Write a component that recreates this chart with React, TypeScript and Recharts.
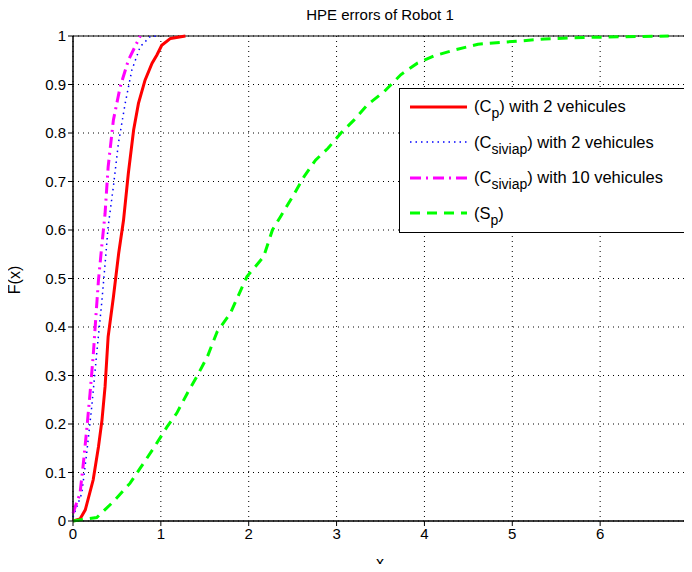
import { CartesianGrid, Line, LineChart, ReferenceArea, ReferenceLine, XAxis, YAxis } from "recharts";

const xTicks = [0, 1, 2, 3, 4, 5, 6, 7];
const yTicks = [0, 0.1, 0.2, 0.3, 0.4, 0.5, 0.6, 0.7, 0.8, 0.9, 1];

// (C_p) with 2 vehicules
const cp2X = [0, 0.08, 0.14, 0.23, 0.29, 0.33, 0.365, 0.4, 0.46, 0.52, 0.575, 0.63, 0.69, 0.745, 0.82, 0.9, 0.955, 1.01, 1.11, 1.28];
const cp2Y = [0, 0.004, 0.023, 0.085, 0.153, 0.208, 0.277, 0.38, 0.462, 0.552, 0.62, 0.717, 0.806, 0.861, 0.909, 0.944, 0.961, 0.981, 0.995, 1.0];

// (C_siviap) with 2 vehicules
const cs2X = [0, 0.1, 0.156, 0.213, 0.27, 0.327, 0.365, 0.4, 0.46, 0.517, 0.594, 0.67, 0.765, 0.88, 0.99];
const cs2Y = [0.008, 0.057, 0.14, 0.235, 0.346, 0.45, 0.53, 0.607, 0.69, 0.779, 0.861, 0.93, 0.978, 0.999, 1.0];

// (C_siviap) with 10 vehicules
const cs10X = [0, 0.08, 0.118, 0.156, 0.194, 0.232, 0.263, 0.29, 0.327, 0.365, 0.4, 0.46, 0.537, 0.63, 0.765];
const cs10Y = [0.016, 0.057, 0.119, 0.188, 0.263, 0.346, 0.428, 0.497, 0.566, 0.634, 0.73, 0.827, 0.895, 0.95, 1.0];

// (S_p)
const spX = [0, 0.27, 0.46, 0.65, 0.765, 0.917, 1.07, 1.18, 1.3, 1.41, 1.53, 1.64, 1.79, 1.98, 2.17, 2.27, 2.36, 2.5, 2.63, 2.76, 2.9, 3.05, 3.2, 3.35, 3.54, 3.73, 3.92, 4.11, 4.34, 4.61, 4.87, 5.1, 5.37, 5.82, 6.78];
const spY = [0, 0.007, 0.04, 0.078, 0.109, 0.15, 0.194, 0.222, 0.263, 0.298, 0.339, 0.39, 0.428, 0.504, 0.545, 0.6, 0.627, 0.669, 0.71, 0.744, 0.768, 0.8, 0.827, 0.858, 0.885, 0.92, 0.944, 0.959, 0.971, 0.983, 0.987, 0.99, 0.994, 0.997, 1.0];

const toRows = (xs: number[], ys: number[]) => xs.map((x, i) => ({ x, y: ys[i] }));

const font = "'Liberation Sans', Arial, sans-serif";

const series = [
  { key: "cp2", data: toRows(cp2X, cp2Y), color: "#ff0000", width: 3, dash: undefined, main: "C", sub: "p", rest: " with 2 vehicules" },
  { key: "cs2", data: toRows(cs2X, cs2Y), color: "#0000ff", width: 1.5, dash: "1.5 4", main: "C", sub: "siviap", rest: " with 2 vehicules" },
  { key: "cs10", data: toRows(cs10X, cs10Y), color: "#ff00ff", width: 3, dash: "11 5 2 5", main: "C", sub: "siviap", rest: " with 10 vehicules" },
  { key: "sp", data: toRows(spX, spY), color: "#00ff00", width: 3, dash: "10 7", main: "S", sub: "p", rest: "" },
];

const lastX = xTicks[xTicks.length - 1];

// legend drawn outside recharts so it does not shrink the plot
const LegendBox = () => (
  <div
    style={{
      position: "absolute",
      left: 391,
      top: 80,
      width: 290,
      height: 145,
      border: "1px solid #000",
      background: "#fff",
      fontSize: 16.5,
      color: "#000",
      boxSizing: "border-box",
    }}
  >
    {series.map((s) => (
      <div key={s.key} style={{ display: "flex", alignItems: "center", height: 35.5 }}>
        <svg width={72} height={10} style={{ marginLeft: 10 }}>
          <line x1={0} x2={57} y1={5} y2={5} stroke={s.color} strokeWidth={s.width} strokeDasharray={s.dash} />
        </svg>
        <span style={{ whiteSpace: "nowrap", marginLeft: -8 }}>
          ({s.main}
          <sub style={{ fontSize: 14, verticalAlign: "-6px", lineHeight: 0 }}>{s.sub}</sub>){s.rest}
        </span>
      </div>
    ))}
  </div>
);

export default function App() {
  return (
    <div style={{ position: "relative", width: 684, height: 556, fontFamily: font }}>
      <div style={{ width: 684, height: 556, overflow: "hidden" }}>
        <LineChart width={700} height={556} margin={{ top: 28, right: 20, left: 5, bottom: 13 }}>
          <CartesianGrid stroke="#000" strokeDasharray="1 4" horizontalValues={yTicks} verticalValues={xTicks} />
          <XAxis
            dataKey="x"
            type="number"
            domain={[0, 7]}
            ticks={xTicks}
            interval={0}
            height={30}
            stroke="#000"
            tickSize={5}
            tick={{ fill: "#000", fontSize: 15, fontFamily: font }}
          />
          <YAxis
            dataKey="y"
            type="number"
            domain={[0, 1]}
            ticks={yTicks}
            interval={0}
            width={60}
            stroke="#000"
            tickSize={5}
            tick={{ fill: "#000", fontSize: 15, fontFamily: font }}
          />
          <ReferenceArea x1={0} x2={7} y1={0} y2={1} fill="none" stroke="#000" strokeWidth={1} ifOverflow="visible" />
          {/* last x tick label, which the axis drops at the edge */}
          <ReferenceLine
            x={lastX}
            stroke="none"
            ifOverflow="visible"
            label={{ value: String(lastX), position: "bottom", offset: 9, fill: "#000", fontSize: 15, fontFamily: font }}
          />
          {series.map((s) => (
            <Line
              key={s.key}
              data={s.data}
              dataKey="y"
              type="linear"
              stroke={s.color}
              strokeWidth={s.width}
              strokeDasharray={s.dash}
              dot={false}
              isAnimationActive={false}
            />
          ))}
        </LineChart>
      </div>
      <LegendBox />
      <div style={{ position: "absolute", left: 0, width: 744, top: -2, textAlign: "center", fontSize: 15 }}>
        HPE errors of Robot 1
      </div>
      <div style={{ position: "absolute", left: 0, width: 744, top: 548, textAlign: "center", fontSize: 16, lineHeight: "14px" }}>
        x
      </div>
      <div
        style={{
          position: "absolute",
          left: 7,
          top: 272,
          fontSize: 16,
          transform: "translate(-50%, -50%) rotate(-90deg)",
          whiteSpace: "nowrap",
        }}
      >
        F(x)
      </div>
    </div>
  );
}
